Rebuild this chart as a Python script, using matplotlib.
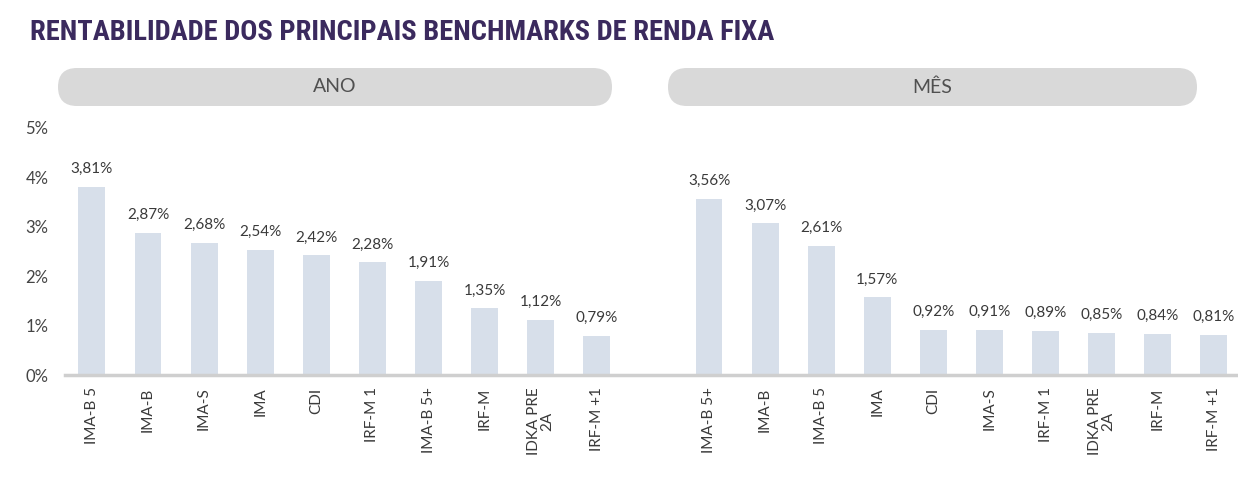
import numpy as np
from matplotlib import pyplot as plt
from matplotlib.patches import FancyBboxPatch

# dados
ano_labels = ['IMA-B 5', 'IMA-B', 'IMA-S', 'IMA', 'CDI', 'IRF-M 1', 'IMA-B 5+',
              'IRF-M', 'IDKA PRE\n2A', 'IRF-M +1']
ano_values = [3.81, 2.87, 2.68, 2.54, 2.42, 2.28, 1.91, 1.35, 1.12, 0.79]
mes_labels = ['IMA-B 5+', 'IMA-B', 'IMA-B 5', 'IMA', 'CDI', 'IMA-S', 'IRF-M 1',
              'IDKA PRE\n2A', 'IRF-M', 'IRF-M +1']
mes_values = [3.56, 3.07, 2.61, 1.57, 0.92, 0.91, 0.89, 0.85, 0.84, 0.81]
yticks = [0, 1, 2, 3, 4, 5]

plt.rcParams['font.family'] = ['Lato', 'DejaVu Sans']

W, H = 1238, 495
fig = plt.figure(figsize=(W / 100, H / 100), dpi=100)

# camada de fundo em pixels para as pílulas
bg = fig.add_axes([0, 0, 1, 1])
bg.set_xlim(0, W)
bg.set_ylim(H, 0)
bg.axis('off')
for x0, x1, txt in [(58, 612, 'ANO'), (668, 1197, 'MÊS')]:
    p = FancyBboxPatch((x0, 68), x1 - x0, 38, boxstyle='round,pad=0,rounding_size=19',
                       facecolor='#d9d9d9', edgecolor='none')
    bg.add_patch(p)
    bg.text((x0 + x1) / 2, 87, txt, ha='center', va='center', fontsize=14, color='#505050')

bg.text(30, 33, 'RENTABILIDADE DOS PRINCIPAIS BENCHMARKS DE RENDA FIXA',
        ha='left', va='center', fontsize=20.5, fontweight='bold', color='#3b2a5e',
        family=['Roboto Condensed', 'Roboto', 'DejaVu Sans'])

ax = fig.add_axes([65 / W, (H - 375) / H, 1 - 65 / W, 247 / H])

x_ano = np.arange(len(ano_values))
x_mes = np.arange(len(mes_values)) + len(ano_values) + 1
bar_color = '#d7dfea'
ax.bar(x_ano, ano_values, width=0.48, color=bar_color)
ax.bar(x_mes, mes_values, width=0.48, color=bar_color)

for xs, vals in [(x_ano, ano_values), (x_mes, mes_values)]:
    for x, v in zip(xs, vals):
        ax.text(x, v + 0.22, f'{v:.2f}%'.replace('.', ','), ha='center', va='bottom',
                fontsize=11, color='#3a3a3a', clip_on=False)

ax.set_xlim(-0.48, 20.43)
ax.set_ylim(0, 5)
ax.set_xticks(np.concatenate([x_ano, x_mes]))
ax.set_xticklabels(ano_labels + mes_labels, rotation=90, fontsize=11,
                   color='#3a3a3a', linespacing=0.95)
ax.set_yticks(yticks)
ax.set_yticklabels([f'{t}%' for t in yticks], fontsize=12, color='#444444')
ax.tick_params(axis='x', length=0, pad=9)
ax.tick_params(axis='y', length=0, pad=12)
for s in ['top', 'right', 'left']:
    ax.spines[s].set_visible(False)
ax.spines['bottom'].set_color('#cfcfcf')
ax.spines['bottom'].set_linewidth(2.5)
ax.set_facecolor('none')

plt.savefig('out.png', dpi=100)
